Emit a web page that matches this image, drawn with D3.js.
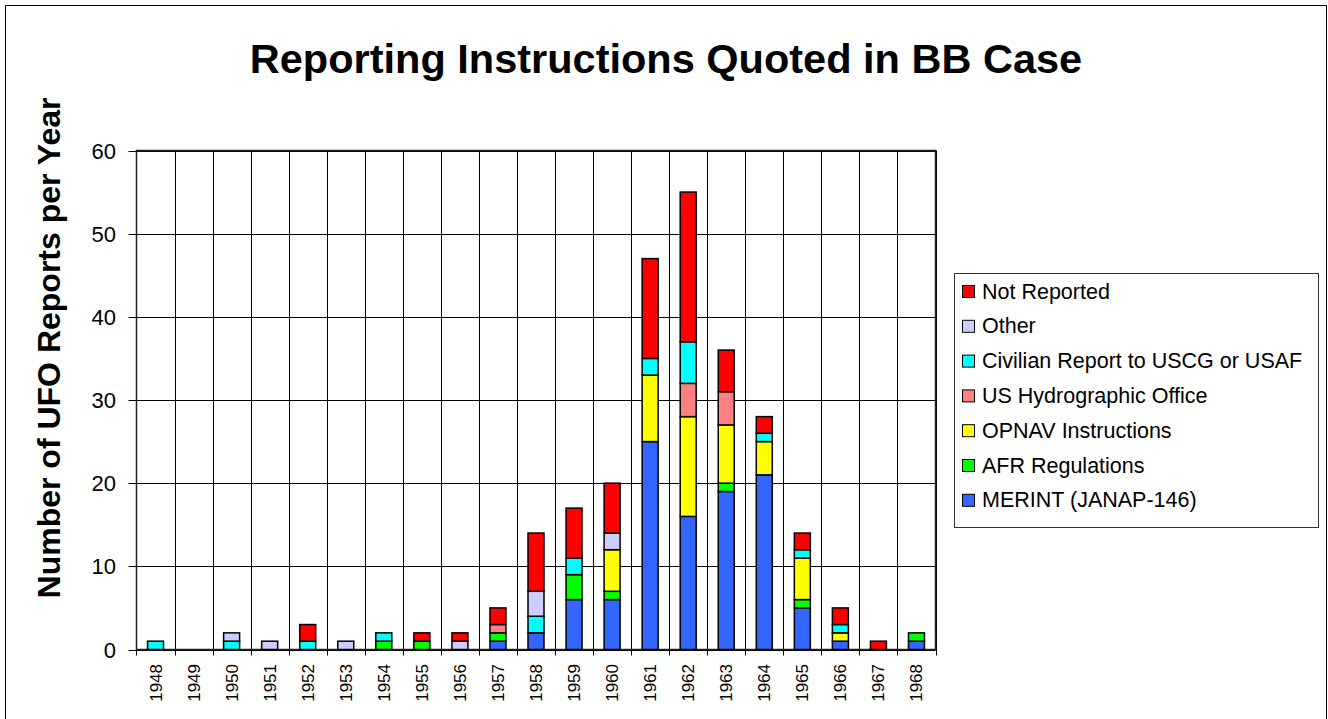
<!DOCTYPE html>
<meta charset="utf-8">
<script src="https://cdn.jsdelivr.net/npm/d3@7"></script>
<style>
  body { margin: 0; background: #fff; }
  text { font-family: "Liberation Sans", Arial, sans-serif; }
</style>
<svg></svg>
<script>
// values, one array per series (1948..1968)
var years = ["1948","1949","1950","1951","1952","1953","1954","1955","1956","1957","1958",
             "1959","1960","1961","1962","1963","1964","1965","1966","1967","1968"];
var merint      = [0,0,0,0,0,0,0,0,0,1,2,6,6,25,16,19,21,5,1,0,1];
var afr         = [0,0,0,0,0,0,1,1,0,1,0,3,1,0,0,1,0,1,0,0,1];
var opnav       = [0,0,0,0,0,0,0,0,0,0,0,0,5,8,12,7,4,5,1,0,0];
var hydro       = [0,0,0,0,0,0,0,0,0,1,0,0,0,0,4,4,0,0,0,0,0];
var civilian    = [1,0,1,0,1,0,1,0,0,0,2,2,0,2,5,0,1,1,1,0,0];
var other       = [0,0,1,1,0,1,0,0,1,0,3,0,2,0,0,0,0,0,0,0,0];
var notReported = [0,0,0,0,2,0,0,1,1,2,7,6,6,12,18,5,2,2,2,1,0];
var yTicks = [0,10,20,30,40,50,60];

// bottom to top stacking order
var seriesNames = ["MERINT (JANAP-146)","AFR Regulations","OPNAV Instructions",
                   "US Hydrographic Office","Civilian Report to USCG or USAF","Other","Not Reported"];
var seriesValues = [merint, afr, opnav, hydro, civilian, other, notReported];
var colors = ["#3366ff","#00ff00","#ffff00","#ff8080","#00ffff","#ccccff","#ff0000"];

var W = 1328, H = 719;
var plot = {left: 136.5, right: 935.5, top: 150.5, bottom: 649.5};

var svg = d3.select("svg").attr("width", W).attr("height", H);

// outer frame
svg.append("rect")
   .attr("x", 5.5).attr("y", 5.5)
   .attr("width", 1321).attr("height", 730)
   .attr("fill", "#fff").attr("stroke", "#000").attr("stroke-width", 1);

// table for d3.stack
var table = years.map(function(y, i){
  var row = {year: y};
  seriesNames.forEach(function(n, j){ row[n] = seriesValues[j][i]; });
  return row;
});
var stacked = d3.stack().keys(seriesNames)(table);

var x = d3.scaleBand().domain(years).range([plot.left, plot.right]).padding(0);
var y = d3.scaleLinear().domain([0, 60]).range([plot.bottom, plot.top]);
var barW = x.bandwidth() * 0.42;

// horizontal gridlines
svg.append("g").selectAll("line")
   .data(yTicks)
   .enter().append("line")
   .attr("x1", plot.left - 8).attr("x2", plot.right)
   .attr("y1", function(d){ return Math.round(y(d)) + 0.5; })
   .attr("y2", function(d){ return Math.round(y(d)) + 0.5; })
   .attr("stroke", "#000").attr("stroke-width", 1);

// vertical gridlines at category boundaries, with ticks below axis
var bounds = years.map(function(d){ return x(d); }).concat([x(years[years.length-1]) + x.bandwidth()]);
svg.append("g").selectAll("line")
   .data(bounds)
   .enter().append("line")
   .attr("x1", function(d){ return Math.round(d) + 0.5; })
   .attr("x2", function(d){ return Math.round(d) + 0.5; })
   .attr("y1", plot.top).attr("y2", plot.bottom + 6)
   .attr("stroke", "#000").attr("stroke-width", 1);

// plot frame
svg.append("rect")
   .attr("x", plot.left).attr("y", plot.top)
   .attr("width", plot.right - plot.left).attr("height", plot.bottom - plot.top)
   .attr("fill", "none").attr("stroke", "#222").attr("stroke-width", 1.5);

// bars
var layers = svg.append("g").selectAll("g")
   .data(stacked)
   .enter().append("g")
   .attr("fill", function(d, i){ return colors[i]; });

layers.selectAll("rect")
   .data(function(d){ return d.filter(function(s){ return s[1] - s[0] > 0; }); })
   .enter().append("rect")
   .attr("x", function(d){ return x(d.data.year) + (x.bandwidth() - barW) / 2; })
   .attr("width", barW)
   .attr("y", function(d){ return y(d[1]); })
   .attr("height", function(d){ return y(d[0]) - y(d[1]); })
   .attr("stroke", "#000").attr("stroke-width", 1.5);

// y tick labels
svg.append("g").selectAll("text")
   .data(yTicks)
   .enter().append("text")
   .attr("x", 116)
   .attr("y", function(d){ return y(d) + 8; })
   .attr("text-anchor", "end")
   .attr("font-size", 22)
   .text(function(d){ return d; });

// x tick labels, rotated
svg.append("g").selectAll("text")
   .data(years)
   .enter().append("text")
   .attr("transform", function(d){
     return "translate(" + (x(d) + x.bandwidth() / 2 + 6) + "," + 664 + ") rotate(-90)";
   })
   .attr("text-anchor", "end")
   .attr("font-size", 17)
   .text(function(d){ return d; });

// title
svg.append("text")
   .attr("x", 666).attr("y", 73)
   .attr("text-anchor", "middle")
   .attr("font-size", 41.5).attr("font-weight", "bold")
   .text("Reporting Instructions Quoted in BB Case");

// y axis title
svg.append("text")
   .attr("transform", "translate(60,348) rotate(-90)")
   .attr("text-anchor", "middle")
   .attr("font-size", 32).attr("font-weight", "bold")
   .text("Number of UFO Reports per Year");

// legend, top to bottom is the reverse of stacking order
var legend = svg.append("g");
legend.append("rect")
   .attr("x", 954.5).attr("y", 273.5)
   .attr("width", 364).attr("height", 254)
   .attr("fill", "#fff").attr("stroke", "#333").attr("stroke-width", 1);

var legendOrder = d3.range(seriesNames.length).reverse();
var items = legend.selectAll("g.item")
   .data(legendOrder)
   .enter().append("g")
   .attr("class", "item")
   .attr("transform", function(d, i){ return "translate(0," + (291 + i * 34.8) + ")"; });

items.append("rect")
   .attr("x", 962.5).attr("y", -5.5)
   .attr("width", 12).attr("height", 12)
   .attr("fill", function(d){ return colors[d]; })
   .attr("stroke", "#000").attr("stroke-width", 1);

items.append("text")
   .attr("x", 982).attr("y", 7.5)
   .attr("font-size", 21.5)
   .text(function(d){ return seriesNames[d]; });
</script>
